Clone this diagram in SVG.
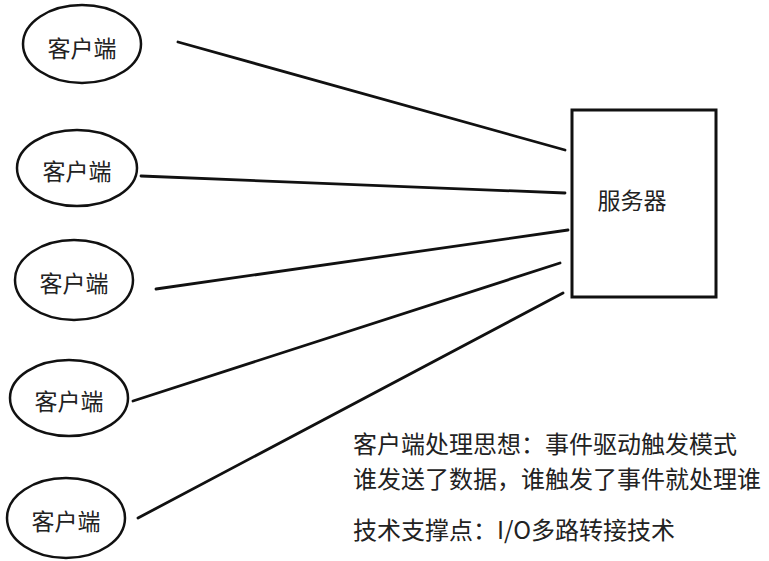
<svg xmlns="http://www.w3.org/2000/svg" width="769" height="561" viewBox="0 0 769 561">
<style>
.n{fill:#fff;stroke:#111;stroke-width:2.5}
.t{font-family:"Noto Sans CJK SC","Noto Sans",sans-serif;fill:#222;dominant-baseline:central}
.c{stroke:#111;stroke-width:2.8;fill:none;stroke-linecap:round}
</style>
<rect width="769" height="561" fill="#fff"/>
<g id="connectors">
<line class="c" x1="178" y1="42" x2="565" y2="150"/>
<line class="c" x1="141" y1="176" x2="565" y2="193"/>
<line class="c" x1="156" y1="289" x2="568" y2="230"/>
<line class="c" x1="133" y1="401" x2="560" y2="263"/>
<line class="c" x1="138" y1="518" x2="563" y2="293"/>
</g>
<g id="client1"><ellipse class="n" cx="82" cy="44" rx="59" ry="39"/><text class="t" x="82" y="47" font-size="23" text-anchor="middle">客户端</text></g>
<g id="client2"><ellipse class="n" cx="77" cy="168" rx="60" ry="38"/><text class="t" x="77" y="170" font-size="23" text-anchor="middle">客户端</text></g>
<g id="client3"><ellipse class="n" cx="74" cy="280" rx="59" ry="40"/><text class="t" x="74" y="282" font-size="23" text-anchor="middle">客户端</text></g>
<g id="client4"><ellipse class="n" cx="69" cy="398" rx="59" ry="38"/><text class="t" x="69" y="400" font-size="23" text-anchor="middle">客户端</text></g>
<g id="client5"><ellipse class="n" cx="66" cy="518" rx="59" ry="40"/><text class="t" x="66" y="520" font-size="23" text-anchor="middle">客户端</text></g>
<g id="server"><rect x="572" y="110" width="144" height="187" fill="#fff" stroke="#111" stroke-width="3"/><text class="t" x="632" y="199" font-size="23" text-anchor="middle">服务器</text></g>
<g id="notes">
<text class="t" x="353" y="442" font-size="24">客户端处理思想：事件驱动触发模式</text>
<text class="t" x="353" y="477" font-size="24">谁发送了数据，谁触发了事件就处理谁</text>
<text class="t" x="353" y="528" font-size="24">技术支撑点：I/O多路转接技术</text>
</g>
</svg>
